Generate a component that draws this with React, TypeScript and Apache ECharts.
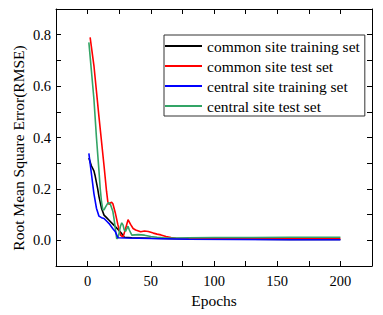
import React, { useEffect, useRef } from "react";
import * as echarts from "echarts";

const seriesNames = [
  "common site training set",
  "common site test set",
  "central site training set",
  "central site test set",
];

const commonTrainEpochs = [1, 3, 5, 6, 8, 9, 11, 13, 15, 17, 19, 21, 23, 25, 27, 29, 35, 50, 70, 100, 130, 160, 200];
const commonTrainRmse = [0.32, 0.29, 0.27, 0.25, 0.2, 0.17, 0.125, 0.098, 0.088, 0.078, 0.068, 0.058, 0.048, 0.037, 0.026, 0.012, 0.01, 0.008, 0.006, 0.005, 0.004, 0.003, 0.003];

const commonTestEpochs = [2, 5, 9, 13, 15, 16, 17, 18, 19, 20, 22, 24, 26, 28, 30, 32, 34, 36, 38, 42, 45, 48, 52, 55, 58, 62, 66, 70, 80, 90, 100, 120, 140, 160, 180, 200];
const commonTestRmse = [0.79, 0.68, 0.48, 0.29, 0.19, 0.15, 0.14, 0.145, 0.148, 0.142, 0.105, 0.06, 0.02, 0.012, 0.045, 0.08, 0.062, 0.046, 0.04, 0.033, 0.036, 0.034, 0.028, 0.024, 0.021, 0.015, 0.011, 0.008, 0.007, 0.007, 0.008, 0.008, 0.007, 0.008, 0.007, 0.007];

const centralTrainEpochs = [1, 3, 5, 7, 9, 11, 13, 15, 17, 20, 22, 24, 30, 50, 80, 120, 160, 200];
const centralTrainRmse = [0.338, 0.26, 0.182, 0.125, 0.094, 0.088, 0.085, 0.075, 0.065, 0.045, 0.033, 0.01, 0.009, 0.007, 0.004, 0.003, 0.002, 0.002];

const centralTestEpochs = [1, 3, 5, 7, 9, 10, 11, 12, 13, 14, 16, 17, 18, 20, 21, 23, 24, 25, 26, 27, 28, 29, 30, 32, 33, 35, 40, 45, 50, 55, 60, 70, 80, 100, 130, 160, 200];
const centralTestRmse = [0.77, 0.66, 0.55, 0.4, 0.27, 0.2, 0.15, 0.12, 0.118, 0.128, 0.145, 0.146, 0.14, 0.112, 0.08, 0.006, 0.01, 0.03, 0.055, 0.068, 0.06, 0.04, 0.035, 0.055, 0.04, 0.02, 0.022, 0.02, 0.015, 0.012, 0.01, 0.009, 0.01, 0.011, 0.011, 0.012, 0.012];

const xTickLabels = ["0", "50", "100", "150", "200"];
const yTickLabels = ["0.0", "0.2", "0.4", "0.6", "0.8"];

const colors = ["#000000", "#ff0000", "#0000ff", "#33a466"];

const FONT = "Liberation Serif";

function zip(xs: number[], ys: number[]) {
  return xs.map((x, i) => [x, ys[i]]);
}

export default function App() {
  const ref = useRef<HTMLDivElement>(null);
  useEffect(() => {
    document.body.style.margin = "0";
    const chart = echarts.init(ref.current!, undefined, { renderer: "svg" });
    const axisLine = { show: true, onZero: false, lineStyle: { color: "#000", width: 1 } };
    const tick = { show: true, inside: true, length: 5, lineStyle: { color: "#000" } };
    const seriesData = [
      zip(commonTrainEpochs, commonTrainRmse),
      zip(commonTestEpochs, commonTestRmse),
      zip(centralTrainEpochs, centralTrainRmse),
      zip(centralTestEpochs, centralTestRmse),
    ];
    chart.setOption({
      animation: false,
      backgroundColor: "#fff",
      textStyle: { fontFamily: FONT },
      grid: { left: 56, right: 11, top: 9, bottom: 49, containLabel: false },
      legend: {
        orient: "vertical",
        left: 164,
        top: 35,
        padding: [3, 5, 2, 1],
        itemGap: 4,
        itemWidth: 37,
        itemHeight: 2,
        icon: "rect",
        borderColor: "#333",
        borderWidth: 1,
        backgroundColor: "#fff",
        textStyle: { fontFamily: FONT, fontSize: 15.5, color: "#000", lineHeight: 16 },
        data: seriesNames,
      },
      graphic: [
        {
          type: "text",
          x: 18,
          y: 148,
          rotation: Math.PI / 2,
          style: {
            text: "Root Mean Square Error(RMSE)",
            fontFamily: FONT,
            fontSize: 15.5,
            fill: "#000",
            align: "center",
            verticalAlign: "middle",
          },
        },
      ],
      xAxis: [
        {
          type: "value",
          min: -25,
          max: 225,
          interval: 25,
          name: "Epochs",
          nameLocation: "middle",
          nameGap: 24,
          nameTextStyle: { fontFamily: FONT, fontSize: 15.5, color: "#000" },
          axisLine,
          axisTick: tick,
          splitLine: { show: false },
          axisLabel: {
            fontFamily: FONT,
            fontSize: 14.5,
            color: "#000",
            margin: 7,
            formatter: (v: number) => {
              const idx = Math.round(v / 50);
              return Math.abs(v - idx * 50) < 1e-6 && idx >= 0 && idx < xTickLabels.length ? xTickLabels[idx] : "";
            },
          },
        },
        {
          type: "value",
          position: "top",
          min: -25,
          max: 225,
          interval: 25,
          axisLine,
          axisTick: tick,
          axisLabel: { show: false },
          splitLine: { show: false },
        },
      ],
      yAxis: [
        {
          type: "value",
          min: -0.1,
          max: 0.9,
          interval: 0.1,
          axisLine,
          axisTick: tick,
          splitLine: { show: false },
          axisLabel: {
            fontFamily: FONT,
            fontSize: 14.5,
            color: "#000",
            margin: 5,
            formatter: (v: number) => {
              const t = Math.round(v * 10);
              const idx = t / 2;
              return t % 2 === 0 && idx >= 0 && idx < yTickLabels.length ? yTickLabels[idx] : "";
            },
          },
        },
        {
          type: "value",
          position: "right",
          min: -0.1,
          max: 0.9,
          interval: 0.1,
          axisLine,
          axisTick: tick,
          axisLabel: { show: false },
          splitLine: { show: false },
        },
      ],
      series: seriesNames.map((name, i) => ({
        name,
        type: "line",
        data: seriesData[i],
        showSymbol: false,
        symbol: "none",
        color: colors[i],
        lineStyle: { color: colors[i], width: 1.6 },
        itemStyle: { color: colors[i] },
        z: i === 2 ? 3 : 2,
      })),
    });
    return () => chart.dispose();
  }, []);
  return <div ref={ref} style={{ width: 383, height: 315 }} />;
}
